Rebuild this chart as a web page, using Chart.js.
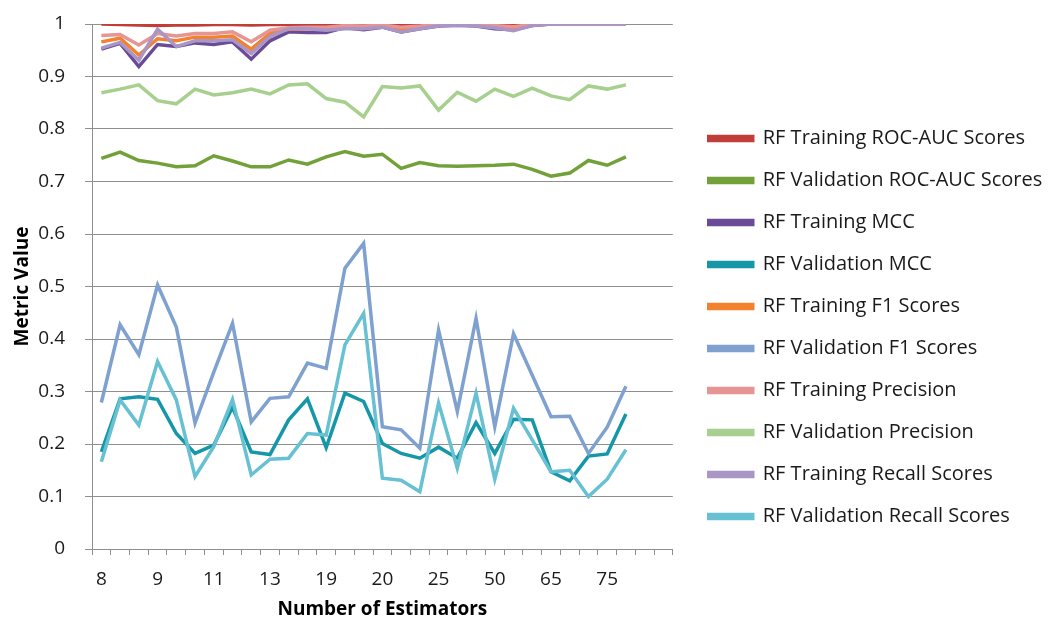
<!DOCTYPE html>
<html>
<head>
<meta charset="utf-8">
<script src="https://cdn.jsdelivr.net/npm/chart.js@4.4.1/dist/chart.umd.min.js"></script>
<style>
  html, body { margin: 0; padding: 0; background: #ffffff; }
  #wrap { width: 1050px; height: 623px; position: relative; }
</style>
</head>
<body>
<div id="wrap"><canvas id="chart" width="1050" height="623"></canvas></div>
<script>
// Runs of the random forest sweep; only every third run gets a tick label.
const categories = ['8','8','8','9','9','9','11','11','11','13','13','13','19','19','19',
  '20','20','20','25','25','25','50','50','50','65','65','65','75','75','75',''];
const tickEvery = 3;
const yTicks = [0, 0.1, 0.2, 0.3, 0.4, 0.5, 0.6, 0.7, 0.8, 0.9, 1];

const trainRocAuc = [1.000,0.999,0.998,0.997,0.998,0.998,0.999,0.999,0.998,0.999,0.999,0.999,0.999,1.000,0.999,0.997,0.997,0.999,1.000,1.000,1.000,0.999,0.999,1.000,1.000,1.000,1.000,1.000,1.000];
const valRocAuc = [0.744,0.756,0.740,0.735,0.728,0.730,0.749,0.739,0.728,0.728,0.741,0.733,0.747,0.757,0.748,0.752,0.725,0.736,0.730,0.729,0.730,0.731,0.733,0.723,0.710,0.716,0.740,0.731,0.747];
const trainMcc = [0.952,0.963,0.919,0.961,0.957,0.964,0.961,0.966,0.933,0.968,0.985,0.984,0.984,0.993,0.989,0.994,0.985,0.991,0.996,0.998,0.996,0.991,0.989,0.997,1.000,1.000,1.000,1.000,1.000];
const valMcc = [0.185,0.286,0.290,0.285,0.220,0.182,0.198,0.270,0.185,0.180,0.246,0.286,0.193,0.297,0.281,0.201,0.182,0.173,0.194,0.173,0.241,0.182,0.247,0.246,0.147,0.130,0.177,0.181,0.257];
const trainF1 = [0.966,0.973,0.941,0.972,0.968,0.975,0.975,0.977,0.952,0.982,0.990,0.991,0.991,0.995,0.993,0.996,0.990,0.994,0.998,0.999,0.998,0.994,0.992,0.998,1.000,1.000,1.000,1.000,1.000];
const valF1 = [0.279,0.427,0.370,0.503,0.423,0.240,0.337,0.430,0.242,0.287,0.290,0.354,0.344,0.535,0.582,0.233,0.227,0.192,0.417,0.262,0.439,0.233,0.410,0.331,0.252,0.253,0.182,0.232,0.310];
const trainPrecision = [0.978,0.980,0.960,0.982,0.977,0.982,0.982,0.985,0.966,0.988,0.993,0.994,0.994,0.997,0.996,0.998,0.994,0.996,0.999,1.000,0.999,0.997,0.995,0.999,1.000,1.000,1.000,1.000,1.000];
const valPrecision = [0.869,0.876,0.884,0.854,0.848,0.876,0.865,0.869,0.876,0.867,0.884,0.886,0.858,0.851,0.823,0.881,0.878,0.882,0.836,0.870,0.853,0.876,0.862,0.878,0.863,0.856,0.882,0.876,0.884];
const trainRecall = [0.954,0.965,0.931,0.990,0.957,0.968,0.968,0.970,0.944,0.976,0.991,0.991,0.988,0.991,0.991,0.994,0.985,0.991,0.996,0.997,0.996,0.993,0.987,0.997,1.000,1.000,1.000,1.000,1.000];
const valRecall = [0.166,0.284,0.236,0.357,0.284,0.138,0.195,0.285,0.141,0.171,0.173,0.220,0.217,0.389,0.449,0.135,0.131,0.109,0.278,0.154,0.297,0.133,0.268,0.208,0.147,0.150,0.100,0.133,0.189];

const seriesNames = ['RF Training ROC-AUC Scores','RF Validation ROC-AUC Scores','RF Training MCC',
  'RF Validation MCC','RF Training F1 Scores','RF Validation F1 Scores','RF Training Precision',
  'RF Validation Precision','RF Training Recall Scores','RF Validation Recall Scores'];
const seriesValues = [trainRocAuc, valRocAuc, trainMcc, valMcc, trainF1, valF1,
  trainPrecision, valPrecision, trainRecall, valRecall];
const seriesColors = ['#C03D38','#72A13A','#6A4B98','#1597A8','#F3822F','#7EA1CF',
  '#E69594','#A7CF8E','#A995C6','#68C1D3'];

const FONT = '"Open Sans", Lato, sans-serif';
const gridColor = '#8f8f8f';

const datasets = seriesValues.map((vals, i) => ({
  label: seriesNames[i],
  data: vals,
  borderColor: seriesColors[i],
  backgroundColor: seriesColors[i],
  borderWidth: 3.5,
  pointRadius: 0,
  pointHoverRadius: 0,
  tension: 0,
  fill: false,
  order: -i            // later series are painted over earlier ones
}));

// Moves the legend block after layout and lets it use the full right margin,
// without moving the plot area.
const legendNudge = {
  id: 'legendNudge',
  afterLayout(chart, args, opts) {
    const lg = chart.legend;
    if (!lg) return;
    lg.left += opts.dx;
    lg.right = chart.width;
    lg.width = lg.right - lg.left;
    lg.top += opts.dy; lg.bottom += opts.dy;
  }
};

new Chart(document.getElementById('chart'), {
  type: 'line',
  data: { labels: categories, datasets },
  plugins: [legendNudge],
  options: {
    responsive: false,
    animation: false,
    layout: { padding: { top: 24, right: 153, left: 0, bottom: 0 } },
    plugins: {
      tooltip: { enabled: false },
      legendNudge: { dx: 14, dy: 4 },
      legend: {
        position: 'right',
        align: 'center',
        labels: {
          boxWidth: 44,
          boxHeight: 4,
          padding: 22,
          color: '#1a1a1a',
          font: { family: FONT, size: 20 },
          sort: (a, b) => a.datasetIndex - b.datasetIndex
        }
      }
    },
    scales: {
      x: {
        type: 'category',
        offset: true,
        grid: { display: true, drawOnChartArea: false, drawTicks: true, tickLength: 6, offset: true, color: gridColor },
        border: { display: true, color: gridColor, width: 1 },
        ticks: {
          autoSkip: false,
          maxRotation: 0,
          padding: 13,
          color: '#1a1a1a',
          font: { family: FONT, size: 19 },
          callback: (v, i) => (i % tickEvery === 0 ? categories[i] : '')
        },
        title: {
          display: true,
          text: 'Number of Estimators',
          color: '#000000',
          font: { family: FONT, size: 19, weight: 'bold', lineHeight: 1.2 },
          padding: { top: 0, bottom: 2 }
        },
        afterFit: (scale) => { scale.height = 74; }
      },
      y: {
        min: 0,
        max: 1,
        afterBuildTicks: (scale) => { scale.ticks = yTicks.map(v => ({ value: v })); },
        grid: { color: gridColor, lineWidth: 1, drawTicks: true, tickLength: 7 },
        border: { display: true, color: gridColor, width: 1 },
        ticks: {
          padding: 20,
          color: '#1a1a1a',
          font: { family: FONT, size: 19 },
          callback: (v) => String(+v.toFixed(1))
        },
        title: {
          display: true,
          text: 'Metric Value',
          color: '#000000',
          font: { family: FONT, size: 19, weight: 'bold', lineHeight: 1.2 },
          padding: { top: 11, bottom: 0 }
        },
        afterFit: (scale) => {
          scale.width = 92;
          scale.paddingTop = 12;
          scale.paddingBottom = 12;
        }
      }
    }
  }
});
</script>
</body>
</html>
